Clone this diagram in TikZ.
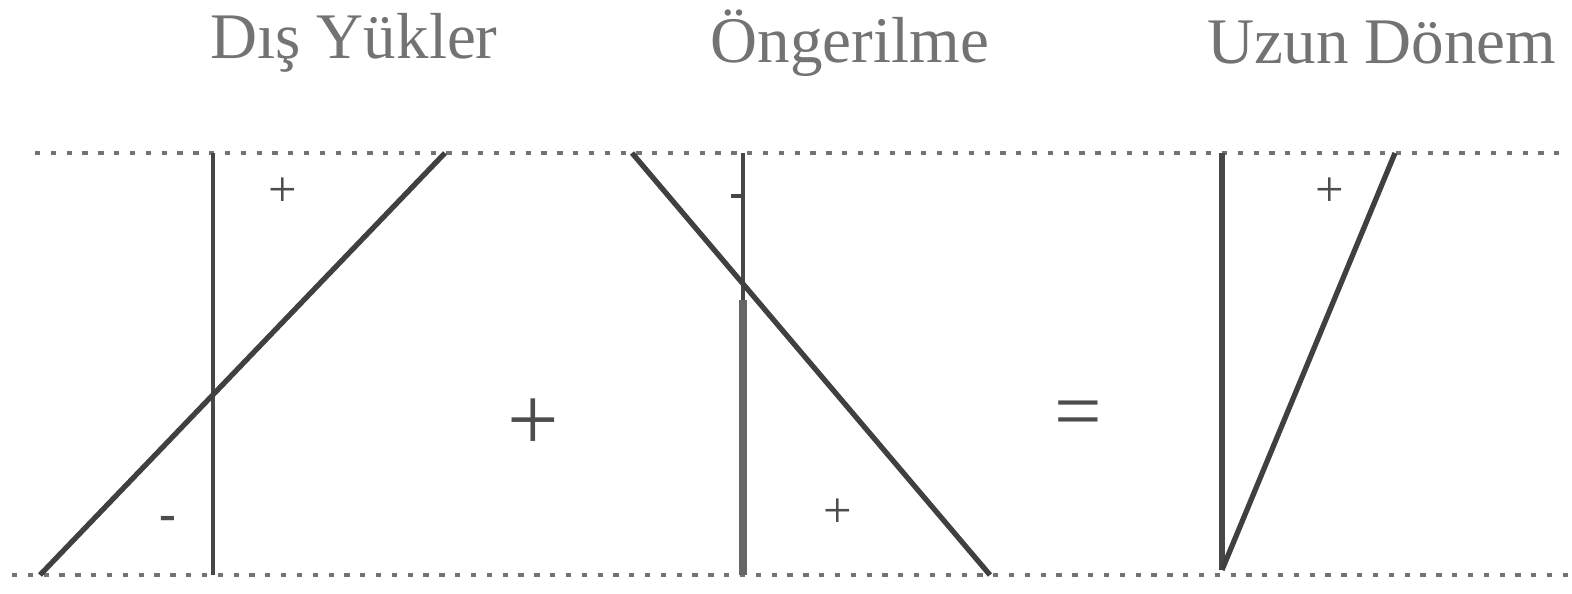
\documentclass[tikz,border=0pt]{standalone}
\usepackage{fontspec}
\setmainfont{Liberation Serif}
\begin{document}
\begin{tikzpicture}[x=0.01cm,y=-0.01cm,
  ttl/.style={text=black!55, font=\fontsize{18.5}{22}\selectfont, inner sep=0pt},
  sgn/.style={text=black!70, inner sep=0pt},
  axis/.style={draw=black!72, line width=1.2pt},
  diag/.style={draw=black!75, line width=1.5pt},
  dotl/.style={draw=black!55, line width=1.3pt, dash pattern=on 1.5pt off 3pt}]
\useasboundingbox (0,0) rectangle (1572,594);
% titles
\node[ttl] (t1) at (354,43) {Dış Yükler};
\node[ttl] (t2) at (850,43) {Öngerilme};
\node[ttl] (t3) at (1382,43) {Uzun Dönem};
% reference lines
\coordinate (tl) at (35,153); \coordinate (tr) at (1568,153);
\coordinate (bl) at (12,575); \coordinate (br) at (1568,575);
\draw[dotl] (tl) -- (tr);
\draw[dotl] (bl) -- (br);
% left diagram
\coordinate (a1t) at (213,153); \coordinate (a1b) at (213,575);
\draw[axis] (a1t) -- (a1b);
\coordinate (d1s) at (40,575); \coordinate (d1e) at (445,153);
\draw[diag] (d1s) -- (d1e);
\node[sgn, font=\Large] (p1) at (283,192) {+};
\node[sgn, font=\Large\bfseries] (m1) at (168,523) {-};
% operators
\node[sgn, font=\fontsize{26}{26}\selectfont] (op1) at (533,425) {+};
\node[sgn, font=\fontsize{24}{24}\selectfont] (op2) at (1078,420) {=};
% middle diagram
\coordinate (a2t) at (743,153); \coordinate (a2m) at (743,300); \coordinate (a2b) at (743,575);
\draw[axis, line width=1.1pt] (a2t) -- (a2m);
\draw[draw=black!60, line width=2.2pt] (a2m) -- (a2b);
\coordinate (tk1) at (731,196); \coordinate (tk2) at (743,196);
\draw[axis] (tk1) -- (tk2);
\coordinate (d2s) at (632,153); \coordinate (d2e) at (990,575);
\draw[diag] (d2s) -- (d2e);
\node[sgn, font=\Large] (p2) at (838,513) {+};
% right diagram
\coordinate (a3t) at (1222,153); \coordinate (a3b) at (1222,570);
\draw[axis, line width=1.5pt] (a3t) -- (a3b);
\coordinate (d3e) at (1395,153);
\draw[diag] (a3b) -- (d3e);
\node[sgn, font=\Large] (p3) at (1330,192) {+};
\end{tikzpicture}
\end{document}
